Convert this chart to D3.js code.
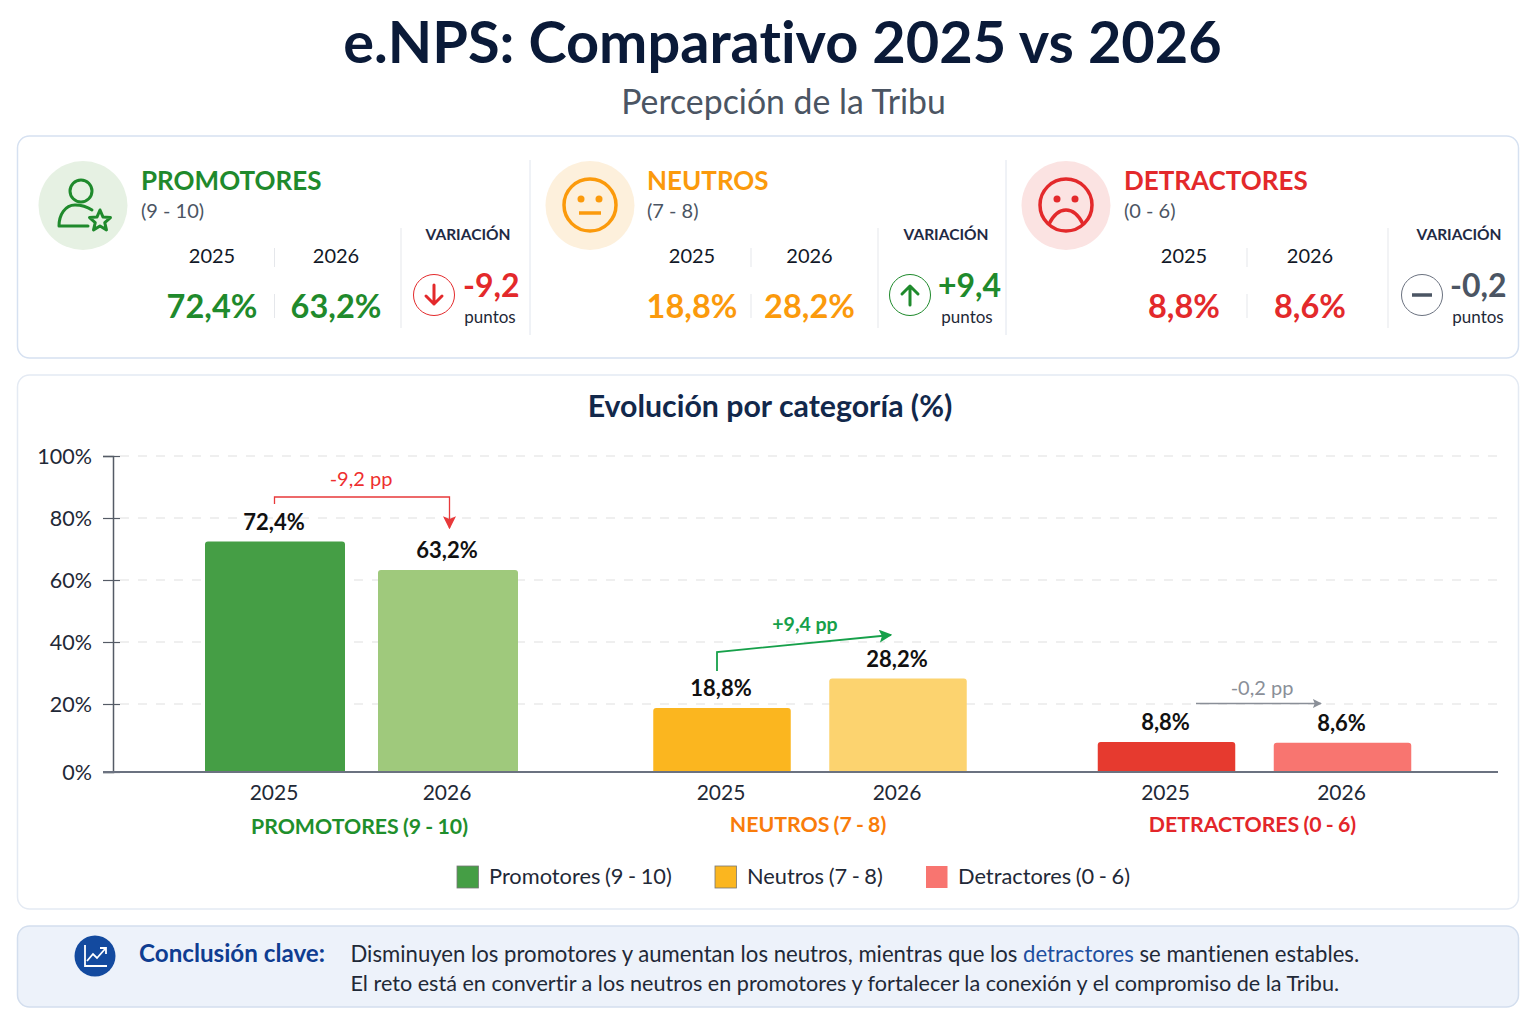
<!DOCTYPE html>
<html>
<head>
<meta charset="utf-8">
<title>e.NPS</title>
<script src="https://cdn.jsdelivr.net/npm/d3@7"></script>
<style>
  html, body { margin: 0; padding: 0; background: #fff; }
  svg { display: block; }
  text { font-family: Lato, "Open Sans", sans-serif; font-variant-ligatures: none; }
</style>
</head>
<body>
<div id="chart"></div>
<script>
// Data
var groups = ["PROMOTORES", "NEUTROS", "DETRACTORES"];
var ranges = ["(9 - 10)", "(7 - 8)", "(0 - 6)"];
var years = ["2025", "2026"];
var values2025 = [72.4, 18.8, 8.8];
var values2026 = [63.2, 28.2, 8.6];
var variation = [-9.2, 9.4, -0.2];
var yTicks = [0, 20, 40, 60, 80, 100];
var legendLabels = ["Promotores (9 - 10)", "Neutros (7 - 8)", "Detractores (0 - 6)"];

// Colours and layout, one entry per group
var mainColor = ["#1f8a2c", "#fb9a0c", "#e3292b"];
var softColor = ["#e6f1e3", "#fdf0dc", "#fbe3e2"];
var barColor2025 = ["#459e45", "#fbb61f", "#e63a2f"];
var barColor2026 = ["#9fc97c", "#fcd36f", "#f87570"];
var axisLabelColor = ["#1f8f2c", "#f97c0a", "#e3262a"];
var varColor = ["#e3292b", "#1f8a2c", "#4b5563"];
var cards = [
  {icon: 83, title: 141, y25: 212, y26: 336, sep: 274.5, div: 401, lab: 468, circ: 434, val: 463, pts: 490, end: 530},
  {icon: 590, title: 647, y25: 692, y26: 809.5, sep: 751, div: 878, lab: 946, circ: 910, val: 938, pts: 967, end: 1006},
  {icon: 1066, title: 1124, y25: 1184, y26: 1310, sep: 1247, div: 1388, lab: 1459, circ: 1422, val: 1450, pts: 1478, end: null}
];

var fmt = d => d3.format(".1f")(Math.abs(d)).replace(".", ",");
var signed = d => (d > 0 ? "+" : "-") + fmt(d);

var svg = d3.select("#chart").append("svg")
  .attr("width", 1536)
  .attr("height", 1024);

function label(parent, x, y, str, size, color, weight, anchor) {
  return parent.append("text")
    .attr("x", x)
    .attr("y", y)
    .attr("font-size", size)
    .attr("fill", color)
    .attr("font-weight", weight || 400)
    .attr("text-anchor", anchor || "start")
    .text(str);
}

function vline(parent, x, y1, y2, color) {
  parent.append("line")
    .attr("x1", x).attr("x2", x)
    .attr("y1", y1).attr("y2", y2)
    .attr("stroke", color)
    .attr("stroke-width", 1);
}

// Header
label(svg, 782.5, 63, "e.NPS: Comparativo 2025 vs 2026", 57.7, "#0a1a38", 700, "middle");
label(svg, 783.5, 114, "Percepción de la Tribu", 33.8, "#4b5563", 400, "middle");

// Panels
function panel(y, h, fill, stroke) {
  svg.append("rect")
    .attr("x", 17.5).attr("y", y)
    .attr("width", 1501).attr("height", h)
    .attr("rx", 12)
    .attr("fill", fill)
    .attr("stroke", stroke)
    .attr("stroke-width", 1.5);
}
panel(136, 222, "#fff", "#d6e1f1");
panel(375, 534, "#fff", "#e4eaf3");
panel(926, 81, "#edf2fa", "#d3deee");

// Icons
function drawIcon(g, i, cx) {
  var c = mainColor[i];
  var line = g.append("g")
    .attr("fill", "none")
    .attr("stroke", c)
    .attr("stroke-linecap", "round")
    .attr("stroke-linejoin", "round");
  if (i === 0) {
    line.attr("stroke-width", 3);
    line.append("circle").attr("cx", cx - 2).attr("cy", 191).attr("r", 11);
    line.append("path").attr("d", `M${cx + 9},210 C${cx + 3},206 ${cx - 4},205 ${cx - 8},205 C${cx - 18},205 ${cx - 24},215 ${cx - 24},226 L${cx + 5},226`);
    var star = d3.range(10).map(k => {
      var r = k % 2 ? 5 : 11;
      var a = -Math.PI / 2 + k * Math.PI / 5;
      return [cx + 17 + r * Math.cos(a), 221 + r * Math.sin(a)];
    });
    line.append("path").attr("d", d3.line()(star) + "Z");
  } else {
    line.attr("stroke-width", 3.5);
    line.append("circle").attr("cx", cx).attr("cy", 205).attr("r", 26);
    [-9, 9].forEach(dx => {
      g.append("circle").attr("cx", cx + dx).attr("cy", 199).attr("r", 3.5).attr("fill", c);
    });
    if (i === 1) {
      line.append("path").attr("d", `M${cx - 11},213 L${cx + 11},213`).attr("stroke-linecap", "butt");
    } else {
      line.append("path").attr("d", `M${cx - 17},224 C${cx - 12},214 ${cx - 6},210 ${cx},210 C${cx + 6},210 ${cx + 12},214 ${cx + 17},224`);
    }
  }
}

function drawVarMark(g, i, cx) {
  var c = varColor[i], cy = 295;
  g.append("circle")
    .attr("cx", cx).attr("cy", cy).attr("r", 20.5)
    .attr("fill", "#fff")
    .attr("stroke", i === 2 ? "#6b7280" : c)
    .attr("stroke-width", 1);
  var p = g.append("path")
    .attr("fill", "none")
    .attr("stroke", c)
    .attr("stroke-width", 3)
    .attr("stroke-linecap", "round")
    .attr("stroke-linejoin", "round");
  if (i === 1) {
    p.attr("d", `M${cx},${cy + 10} L${cx},${cy - 9} M${cx - 8},${cy - 1} L${cx},${cy - 9} L${cx + 8},${cy - 1}`);
  } else if (i === 0) {
    p.attr("d", `M${cx},${cy - 10} L${cx},${cy + 9} M${cx - 8},${cy + 1} L${cx},${cy + 9} L${cx + 8},${cy + 1}`);
  } else {
    p.attr("d", `M${cx - 10},${cy} L${cx + 10},${cy}`).attr("stroke-linecap", "butt").attr("stroke-width", 3.5);
  }
}

// KPI cards
groups.forEach(function(name, i) {
  var c = cards[i];
  var g = svg.append("g");
  g.append("circle").attr("cx", c.icon).attr("cy", 205.5).attr("r", 44.5).attr("fill", softColor[i]);
  drawIcon(g, i, c.icon);
  label(g, c.title, 190, name, 26, mainColor[i], 700);
  label(g, c.title, 218, ranges[i], 20, "#4b5563");
  label(g, c.y25, 263, years[0], 20, "#111827", 400, "middle");
  label(g, c.y26, 263, years[1], 20, "#111827", 400, "middle");
  vline(g, c.sep, 248, 267, "#e5e7eb");
  vline(g, c.sep, 294, 318, "#e5e7eb");
  label(g, c.y25, 318, fmt(values2025[i]) + "%", 32.5, mainColor[i], 700, "middle");
  label(g, c.y26, 318, fmt(values2026[i]) + "%", 32.5, mainColor[i], 700, "middle");
  vline(g, c.div, 228, 328, "#e5e7eb");
  label(g, c.lab, 240, "VARIACIÓN", 15.5, "#1f2a44", 700, "middle");
  drawVarMark(g, i, c.circ);
  label(g, c.val, 297, signed(variation[i]), 32, varColor[i], 700);
  label(g, c.pts, 323, "puntos", 17, "#1f2937", 400, "middle");
  if (c.end) vline(g, c.end, 160, 335, "#e0e5ee");
});

// Chart
label(svg, 770, 417, "Evolución por categoría (%)", 30.3, "#12284b", 700, "middle");

// the reference's 0-20 interval is a bit taller than the others
var yScale = d3.scaleLinear()
  .domain([0, 20, 100])
  .range([772, 704, 456]);

var groupCenter = d3.scaleOrdinal().domain(groups).range([361.5, 810, 1254.5]);
var groupSpread = d3.scaleOrdinal().domain(groups).range([86.5, 88, 88]);
var barWidth = d3.scaleOrdinal().domain(groups).range([140, 137.5, 137.5]);
var barX = (g, y) => groupCenter(g) + d3.scalePoint().domain(years).range([-groupSpread(g), groupSpread(g)])(y);

// gridlines
svg.append("g")
  .selectAll("line")
  .data(yTicks.filter(d => d > 0))
  .enter()
  .append("line")
  .attr("x1", 120).attr("x2", 1498)
  .attr("y1", d => yScale(d)).attr("y2", d => yScale(d))
  .attr("stroke", "#e0e0e0")
  .attr("stroke-width", 1.2)
  .attr("stroke-dasharray", "9 9");

// bars
var barRows = [];
groups.forEach(function(g, i) {
  barRows.push({group: g, year: years[0], value: values2025[i], color: barColor2025[i]});
  barRows.push({group: g, year: years[1], value: values2026[i], color: barColor2026[i]});
});

function barPath(d) {
  var w = barWidth(d.group);
  var x0 = barX(d.group, d.year) - w / 2, x1 = x0 + w;
  var y0 = yScale(0), y1 = yScale(d.value), r = 3;
  return `M${x0},${y0} L${x0},${y1 + r} Q${x0},${y1} ${x0 + r},${y1} L${x1 - r},${y1} Q${x1},${y1} ${x1},${y1 + r} L${x1},${y0} Z`;
}

svg.append("g")
  .selectAll("path")
  .data(barRows)
  .enter()
  .append("path")
  .attr("d", barPath)
  .attr("fill", d => d.color);

svg.append("g")
  .selectAll("text")
  .data(barRows)
  .enter()
  .append("text")
  .attr("x", d => barX(d.group, d.year) - 1)
  .attr("y", d => yScale(d.value) - 12)
  .attr("text-anchor", "middle")
  .attr("font-size", 22)
  .attr("font-weight", 700)
  .attr("fill", "#111")
  .text(d => fmt(d.value) + "%");

// y axis
var leftAxis = d3.axisLeft(yScale)
  .tickValues(yTicks)
  .tickSize(10)
  .tickPadding(11)
  .tickFormat(d => d + "%");

var yAxisG = svg.append("g")
  .attr("transform", "translate(113, 0)")
  .call(leftAxis);
yAxisG.selectAll("path.domain").attr("stroke", "#555b66").attr("stroke-width", 1.5);
yAxisG.selectAll(".tick line").attr("x1", 7).attr("stroke", "#555b66").attr("stroke-width", 1.2);
yAxisG.selectAll("text")
  .attr("font-size", 21.5)
  .attr("fill", "#1f2937")
  .attr("font-family", "Lato")
  .attr("dy", "0.36em");

// baseline
svg.append("line")
  .attr("x1", 103).attr("x2", 1498)
  .attr("y1", yScale(0)).attr("y2", yScale(0))
  .attr("stroke", "#6b7280")
  .attr("stroke-width", 2);

// x labels
svg.append("g")
  .selectAll("text")
  .data(barRows)
  .enter()
  .append("text")
  .attr("x", d => barX(d.group, d.year) - 1)
  .attr("y", 800)
  .attr("text-anchor", "middle")
  .attr("font-size", 21)
  .attr("fill", "#1f2937")
  .text(d => d.year);

groups.forEach(function(g, i) {
  label(svg, groupCenter(g) - 2, i === 0 ? 834 : 832, g + " " + ranges[i], 21.3, axisLabelColor[i], 700, "middle")
    .attr("word-spacing", -1);
});

// change annotations
var defs = svg.append("defs");
[["arrowRed", "#e8393a", 13], ["arrowGreen", "#16a04a", 13], ["arrowGrey", "#8a8f98", 9]].forEach(function(m) {
  defs.append("marker")
    .attr("id", m[0])
    .attr("viewBox", "0 0 10 10")
    .attr("refX", 9).attr("refY", 5)
    .attr("markerUnits", "userSpaceOnUse")
    .attr("markerWidth", m[2]).attr("markerHeight", m[2])
    .attr("orient", "auto")
    .append("path")
    .attr("d", "M0,0 L10,5 L0,10 L2,5 Z")
    .attr("fill", m[1]);
});

function note(d, color, marker, width) {
  svg.append("path")
    .attr("d", d)
    .attr("fill", "none")
    .attr("stroke", color)
    .attr("stroke-width", width)
    .attr("marker-end", `url(#${marker})`);
}
note("M274.5,504 L274.5,497 L449.5,497 L449.5,528", "#e8393a", "arrowRed", 1.3);
label(svg, 361, 486, signed(variation[0]) + " pp", 20, "#ee2f2f", 400, "middle");
note("M717,671 L717,652 L891,635", "#16a04a", "arrowGreen", 1.8);
label(svg, 805, 631, signed(variation[1]) + " pp", 19.5, "#16a04a", 700, "middle");
note("M1196,703.5 L1321,703.5", "#8a8f98", "arrowGrey", 1.4);
label(svg, 1262, 695, signed(variation[2]) + " pp", 20, "#8a8f98", 400, "middle");

// legend
var legendX = [457, 715, 926];
var legendColor = [barColor2025[0], barColor2025[1], barColor2026[2]];
legendLabels.forEach(function(t, i) {
  svg.append("rect")
    .attr("x", legendX[i]).attr("y", 866)
    .attr("width", 21.5).attr("height", 22)
    .attr("fill", legendColor[i])
    .attr("stroke", i === 2 ? "none" : "#777")
    .attr("stroke-width", 0.8);
  label(svg, legendX[i] + 32, 884, t, 21.8, "#1f2937").attr("word-spacing", -1);
});

// Conclusion
svg.append("circle").attr("cx", 95).attr("cy", 956).attr("r", 20.5).attr("fill", "#134a9f");
svg.append("path")
  .attr("d", "M85,945 L85,966 L107,966 M87,961 L93,954 L97,958 L105,949 M100,948 L106,948 L106,954")
  .attr("fill", "none")
  .attr("stroke", "#fff")
  .attr("stroke-width", 1.8);
label(svg, 139, 962, "Conclusión clave:", 24.2, "#0f3d91", 700);

var line1 = label(svg, 350.5, 962, "", 22.15, "#1f2937");
line1.append("tspan").text("Disminuyen los promotores y aumentan los neutros, mientras que los ");
line1.append("tspan").attr("fill", "#1d4f9f").text("detractores");
line1.append("tspan").text(" se mantienen estables.");
label(svg, 350.5, 991, "El reto está en convertir a los neutros en promotores y fortalecer la conexión y el compromiso de la Tribu.", 21.6, "#1f2937");
</script>
</body>
</html>
